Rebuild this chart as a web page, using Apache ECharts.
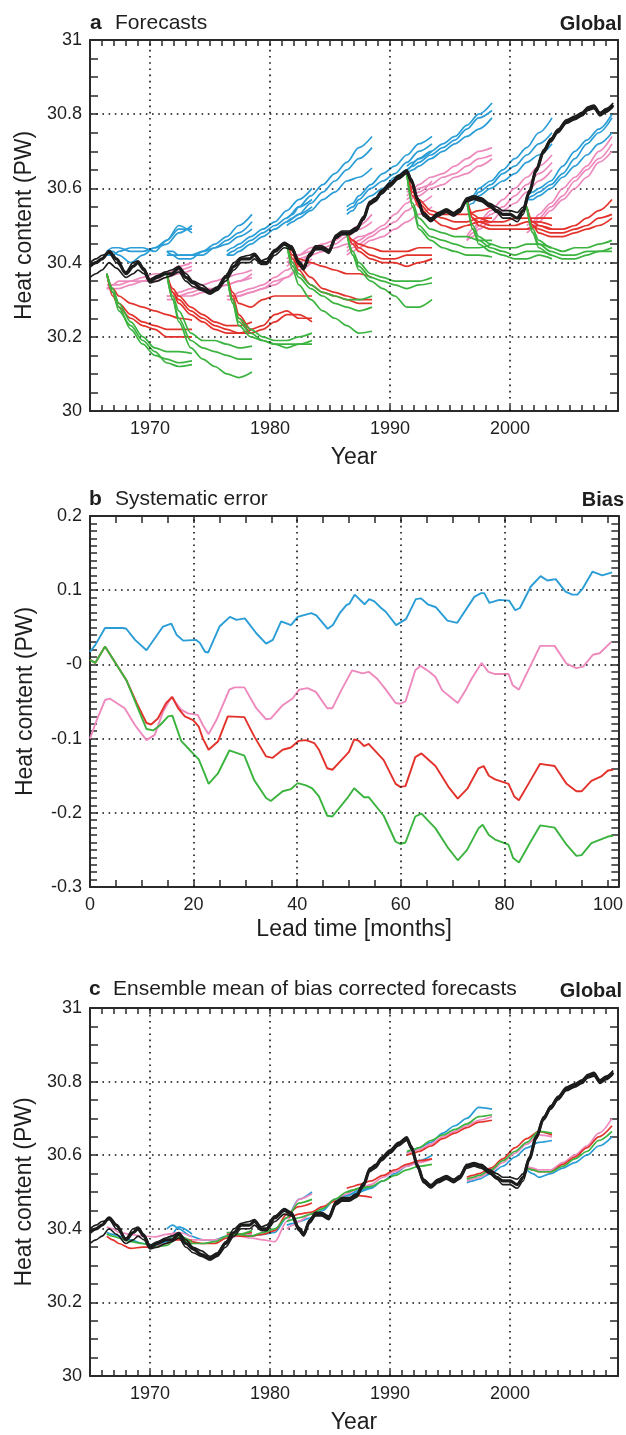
<!DOCTYPE html>
<html>
<head>
<meta charset="utf-8">
<title>Heat content forecasts</title>
<script src="https://cdn.jsdelivr.net/npm/echarts@6.0.0/dist/echarts.min.js"></script>
<style>html,body{margin:0;padding:0;background:#fff;}</style>
</head>
<body>
<div id="main" style="width:626px;height:1435px;"></div>
<script>
// forecast start dates (years) and lead times of the read-off points (years)
const startYears = [1966.4, 1971.4, 1976.4, 1981.4, 1986.4, 1991.4, 1996.4, 2001.4];
const leadYears = [0, 0.5, 1, 2, 3, 4, 5, 6, 7.1];

// panel a: three members per start, one list per start
const blueRuns = [
  [[30.43,30.44,30.44,30.43,30.43,30.44,30.46,30.49,30.49],[30.43,30.43,30.42,30.40,30.42,30.44,30.45,30.48,30.50],[30.42,30.42,30.43,30.44,30.44,30.43,30.46,30.50,30.48]],
  [[30.43,30.43,30.42,30.42,30.43,30.45,30.47,30.50,30.53],[30.43,30.42,30.41,30.41,30.43,30.44,30.46,30.48,30.51],[30.42,30.42,30.42,30.42,30.42,30.44,30.45,30.47,30.49]],
  [[30.43,30.44,30.45,30.47,30.49,30.51,30.54,30.57,30.60],[30.42,30.43,30.44,30.46,30.48,30.50,30.52,30.55,30.57],[30.42,30.42,30.43,30.45,30.47,30.49,30.51,30.53,30.55]],
  [[30.52,30.53,30.55,30.58,30.61,30.64,30.67,30.71,30.74],[30.51,30.52,30.53,30.56,30.59,30.62,30.65,30.68,30.71],[30.50,30.51,30.52,30.54,30.57,30.59,30.62,30.63,30.655]],
  [[30.55,30.56,30.58,30.61,30.64,30.66,30.69,30.72,30.74],[30.54,30.55,30.57,30.60,30.62,30.64,30.67,30.70,30.72],[30.53,30.54,30.56,30.58,30.60,30.63,30.65,30.68,30.70]],
  [[30.66,30.67,30.68,30.70,30.72,30.74,30.77,30.80,30.83],[30.65,30.66,30.67,30.69,30.71,30.73,30.76,30.79,30.81],[30.64,30.65,30.66,30.68,30.70,30.72,30.74,30.76,30.79]],
  [[30.57,30.58,30.60,30.62,30.65,30.68,30.71,30.75,30.79],[30.56,30.57,30.59,30.61,30.64,30.66,30.69,30.72,30.75],[30.55,30.56,30.58,30.60,30.62,30.64,30.67,30.69,30.72]],
  [[30.58,30.59,30.60,30.62,30.66,30.70,30.73,30.76,30.80],[30.57,30.58,30.59,30.61,30.64,30.68,30.72,30.75,30.79],[30.57,30.57,30.58,30.60,30.63,30.66,30.69,30.72,30.75]]
];
const pinkRuns = [
  [[30.33,30.34,30.34,30.35,30.35,30.36,30.37,30.38,30.39],[30.34,30.34,30.35,30.35,30.36,30.37,30.37,30.39,30.40],[30.33,30.33,30.33,30.34,30.35,30.35,30.36,30.37,30.38]],
  [[30.31,30.31,30.31,30.32,30.33,30.33,30.34,30.35,30.37],[30.30,30.30,30.31,30.31,30.32,30.33,30.34,30.35,30.36],[30.31,30.31,30.32,30.33,30.34,30.35,30.36,30.37,30.38]],
  [[30.31,30.31,30.32,30.33,30.34,30.36,30.38,30.40,30.43],[30.30,30.30,30.31,30.32,30.33,30.35,30.36,30.39,30.41],[30.31,30.31,30.31,30.32,30.33,30.34,30.36,30.38,30.40]],
  [[30.41,30.42,30.42,30.44,30.45,30.46,30.48,30.50,30.53],[30.40,30.41,30.42,30.43,30.44,30.45,30.47,30.49,30.51],[30.39,30.40,30.41,30.42,30.43,30.44,30.45,30.47,30.48]],
  [[30.44,30.45,30.46,30.48,30.50,30.53,30.56,30.59,30.62],[30.43,30.44,30.45,30.47,30.49,30.51,30.54,30.56,30.58],[30.42,30.43,30.44,30.46,30.47,30.49,30.51,30.53,30.55]],
  [[30.59,30.60,30.61,30.63,30.64,30.66,30.68,30.70,30.71],[30.58,30.59,30.60,30.61,30.63,30.64,30.66,30.68,30.69],[30.57,30.58,30.58,30.60,30.61,30.63,30.64,30.66,30.68]],
  [[30.47,30.49,30.51,30.54,30.57,30.60,30.63,30.66,30.69],[30.46,30.48,30.50,30.53,30.55,30.58,30.61,30.64,30.67],[30.46,30.47,30.49,30.51,30.54,30.56,30.59,30.62,30.65]],
  [[30.50,30.51,30.53,30.56,30.60,30.63,30.66,30.70,30.74],[30.49,30.50,30.52,30.55,30.58,30.62,30.65,30.68,30.72],[30.48,30.49,30.51,30.54,30.57,30.60,30.63,30.67,30.70]]
];
const redRuns = [
  [[30.37,30.33,30.31,30.29,30.28,30.27,30.26,30.25,30.245],[30.37,30.32,30.29,30.26,30.24,30.23,30.22,30.22,30.22],[30.37,30.31,30.28,30.25,30.23,30.22,30.20,30.20,30.20]],
  [[30.37,30.33,30.31,30.28,30.26,30.24,30.23,30.23,30.24],[30.37,30.32,30.30,30.27,30.25,30.23,30.22,30.21,30.22],[30.37,30.32,30.29,30.26,30.24,30.22,30.21,30.21,30.21]],
  [[30.37,30.32,30.29,30.28,30.30,30.31,30.31,30.31,30.31],[30.37,30.31,30.26,30.22,30.23,30.26,30.27,30.25,30.25],[30.37,30.30,30.25,30.21,30.22,30.24,30.26,30.26,30.24]],
  [[30.45,30.43,30.41,30.40,30.39,30.38,30.37,30.37,30.36],[30.45,30.42,30.39,30.36,30.33,30.32,30.31,30.30,30.30],[30.45,30.41,30.38,30.34,30.32,30.31,30.30,30.29,30.29]],
  [[30.48,30.46,30.45,30.44,30.43,30.43,30.43,30.44,30.44],[30.48,30.46,30.44,30.42,30.41,30.41,30.42,30.42,30.42],[30.48,30.45,30.43,30.41,30.40,30.40,30.39,30.40,30.41]],
  [[30.64,30.60,30.57,30.54,30.53,30.53,30.53,30.54,30.55],[30.64,30.59,30.56,30.53,30.52,30.51,30.51,30.52,30.52],[30.64,30.58,30.55,30.52,30.50,30.49,30.50,30.51,30.51]],
  [[30.57,30.53,30.52,30.51,30.51,30.52,30.52,30.52,30.52],[30.57,30.52,30.51,30.50,30.50,30.50,30.51,30.51,30.50],[30.57,30.52,30.50,30.49,30.49,30.49,30.49,30.50,30.49]],
  [[30.55,30.51,30.50,30.49,30.49,30.50,30.52,30.54,30.57],[30.55,30.50,30.49,30.48,30.48,30.49,30.50,30.52,30.53],[30.55,30.50,30.48,30.47,30.47,30.48,30.49,30.50,30.52]]
];
const greenRuns = [
  [[30.37,30.33,30.29,30.24,30.20,30.17,30.16,30.16,30.155],[30.37,30.32,30.28,30.22,30.18,30.15,30.14,30.13,30.135],[30.37,30.32,30.27,30.23,30.19,30.16,30.13,30.12,30.125]],
  [[30.37,30.31,30.27,30.21,30.19,30.19,30.18,30.17,30.175],[30.37,30.30,30.25,30.19,30.17,30.16,30.15,30.14,30.14],[30.37,30.30,30.24,30.17,30.14,30.12,30.10,30.09,30.105]],
  [[30.37,30.30,30.25,30.22,30.20,30.19,30.19,30.20,30.21],[30.37,30.29,30.24,30.21,30.19,30.18,30.18,30.18,30.19],[30.37,30.29,30.23,30.20,30.19,30.18,30.17,30.18,30.18]],
  [[30.45,30.40,30.37,30.34,30.32,30.31,30.30,30.30,30.31],[30.45,30.39,30.36,30.33,30.31,30.29,30.28,30.27,30.28],[30.45,30.38,30.34,30.30,30.27,30.25,30.23,30.21,30.215]],
  [[30.48,30.43,30.40,30.37,30.36,30.35,30.35,30.35,30.36],[30.48,30.42,30.39,30.36,30.35,30.34,30.33,30.34,30.345],[30.48,30.42,30.38,30.35,30.33,30.31,30.28,30.28,30.30]],
  [[30.64,30.56,30.52,30.49,30.48,30.47,30.47,30.46,30.46],[30.64,30.55,30.50,30.47,30.46,30.45,30.44,30.44,30.45],[30.64,30.55,30.49,30.46,30.44,30.43,30.42,30.42,30.415]],
  [[30.57,30.50,30.47,30.45,30.44,30.44,30.45,30.45,30.44],[30.57,30.49,30.46,30.44,30.43,30.42,30.43,30.43,30.42],[30.57,30.49,30.45,30.43,30.42,30.41,30.41,30.42,30.41]],
  [[30.55,30.49,30.46,30.44,30.43,30.44,30.44,30.45,30.46],[30.55,30.48,30.45,30.43,30.42,30.42,30.43,30.43,30.44],[30.55,30.48,30.44,30.42,30.41,30.41,30.42,30.43,30.43]]
];

// observed / analysed heat content (three members)
const blackYears = [1965.0,1965.5,1966.0,1966.6,1967.2,1968.0,1968.6,1969.0,1969.5,1970.0,1970.6,1971.3,1971.8,1972.4,1973.0,1973.6,1974.3,1975.0,1975.6,1976.3,1977.0,1977.6,1978.3,1978.7,1979.3,1979.7,1980.4,1981.2,1981.8,1982.4,1982.8,1983.3,1983.8,1984.3,1984.9,1985.5,1986.0,1986.6,1987.2,1987.8,1988.3,1988.8,1989.3,1990.0,1990.7,1991.4,1991.8,1992.3,1992.8,1993.4,1994.0,1994.7,1995.3,1995.8,1996.4,1997.0,1997.6,1998.3,1998.9,1999.4,2000.0,2000.6,2001.1,2001.6,2002.2,2002.8,2003.4,2004.0,2004.7,2005.4,2006.0,2006.5,2007.0,2007.5,2008.0,2008.6];
const blackMain = [30.39,30.40,30.41,30.43,30.41,30.37,30.39,30.40,30.38,30.35,30.36,30.37,30.37,30.385,30.36,30.345,30.33,30.32,30.33,30.36,30.39,30.41,30.41,30.42,30.40,30.40,30.43,30.45,30.44,30.40,30.385,30.42,30.44,30.44,30.43,30.47,30.48,30.48,30.49,30.52,30.56,30.57,30.59,30.61,30.63,30.645,30.62,30.57,30.53,30.515,30.53,30.54,30.53,30.54,30.57,30.575,30.57,30.555,30.54,30.53,30.53,30.52,30.54,30.59,30.65,30.70,30.73,30.755,30.78,30.79,30.80,30.815,30.82,30.80,30.81,30.825];
const blackHigh = [30.40,30.41,30.42,30.425,30.40,30.375,30.40,30.405,30.385,30.355,30.365,30.375,30.38,30.39,30.37,30.35,30.34,30.325,30.335,30.365,30.40,30.415,30.42,30.425,30.405,30.41,30.435,30.455,30.445,30.405,30.39,30.425,30.445,30.445,30.435,30.475,30.485,30.485,30.495,30.525,30.565,30.575,30.595,30.615,30.635,30.65,30.625,30.575,30.535,30.52,30.535,30.545,30.535,30.545,30.575,30.58,30.575,30.56,30.55,30.54,30.54,30.535,30.55,30.595,30.655,30.705,30.735,30.76,30.785,30.795,30.805,30.82,30.825,30.805,30.815,30.83];
const blackLow = [30.36,30.37,30.38,30.40,30.385,30.36,30.37,30.38,30.37,30.345,30.35,30.36,30.365,30.375,30.35,30.335,30.325,30.315,30.325,30.35,30.38,30.40,30.40,30.41,30.395,30.395,30.42,30.44,30.435,30.395,30.38,30.415,30.435,30.435,30.425,30.465,30.475,30.475,30.485,30.515,30.555,30.565,30.585,30.605,30.625,30.64,30.615,30.565,30.525,30.51,30.525,30.535,30.525,30.535,30.565,30.57,30.565,30.55,30.535,30.52,30.52,30.51,30.53,30.585,30.645,30.695,30.725,30.75,30.775,30.785,30.795,30.81,30.815,30.795,30.805,30.82];

// panel b: systematic error vs lead time [month, PW]
const biasBlue = [[0,0.017],[1,0.026],[2.9,0.049],[6.4,0.049],[7,0.048],[8.7,0.033],[10.9,0.019],[14.1,0.051],[15.7,0.055],[16.7,0.040],[18,0.032],[20.5,0.033],[21.2,0.029],[22.2,0.017],[22.8,0.016],[25,0.051],[27,0.064],[28.3,0.060],[29.9,0.062],[32.1,0.042],[34,0.028],[35.3,0.033],[36.9,0.058],[38.8,0.053],[40.1,0.064],[42.7,0.069],[43.7,0.066],[45.9,0.048],[46.9,0.053],[48.2,0.069],[49.5,0.080],[50.1,0.082],[51.1,0.094],[53,0.081],[53.9,0.088],[54.9,0.085],[56.2,0.076],[57.1,0.071],[59.1,0.053],[61,0.061],[62.9,0.088],[63.9,0.089],[65.2,0.081],[66.8,0.077],[69,0.059],[70.9,0.056],[74.2,0.091],[75.5,0.096],[76.1,0.096],[77.1,0.083],[79,0.087],[80.9,0.086],[82.1,0.073],[83,0.076],[85.1,0.105],[87,0.119],[88.3,0.113],[89.9,0.115],[91.8,0.098],[93.1,0.094],[94.1,0.094],[95,0.101],[97,0.125],[98.9,0.120],[100.8,0.124]];
const biasPink = [[0,-0.100],[1.3,-0.075],[2.9,-0.048],[3.8,-0.046],[6.7,-0.059],[8.7,-0.082],[10.9,-0.102],[12.5,-0.095],[14.1,-0.064],[15.7,-0.044],[17.6,-0.061],[18.9,-0.066],[20.8,-0.068],[21.8,-0.082],[22.9,-0.094],[24.4,-0.075],[26.9,-0.034],[27.9,-0.031],[29.8,-0.031],[32.1,-0.059],[34,-0.074],[34.9,-0.073],[37.2,-0.055],[39.1,-0.046],[40.4,-0.034],[42,-0.032],[43.6,-0.037],[45.8,-0.059],[46.8,-0.059],[48.5,-0.035],[50.6,-0.008],[52.6,-0.012],[53.8,-0.010],[55.4,-0.019],[57,-0.033],[59,-0.052],[59.9,-0.053],[60.9,-0.050],[62.8,-0.008],[63.8,-0.002],[65.5,-0.010],[66.7,-0.017],[68,-0.035],[71,-0.052],[72.5,-0.035],[73.7,-0.019],[75.6,0.002],[76.9,-0.010],[78.2,-0.013],[80.8,-0.013],[81.6,-0.028],[82.8,-0.034],[84.6,-0.008],[86.9,0.025],[89.7,0.025],[92,0.001],[93.9,-0.005],[95.2,-0.003],[97.1,0.013],[98.4,0.015],[100.6,0.030]];
const biasRed = [[0,0.006],[1,0.002],[2.9,0.024],[7,-0.021],[9,-0.052],[10.9,-0.079],[11.8,-0.081],[13.1,-0.073],[14.7,-0.052],[15.9,-0.044],[17,-0.059],[18.3,-0.070],[19.9,-0.075],[21,-0.084],[21.8,-0.100],[22.9,-0.115],[24.7,-0.104],[26.6,-0.070],[29.8,-0.071],[31.7,-0.097],[34,-0.124],[35.2,-0.126],[37.2,-0.115],[38.8,-0.112],[40.3,-0.103],[41.7,-0.102],[43.3,-0.106],[44.2,-0.115],[45.8,-0.140],[46.8,-0.142],[48.4,-0.130],[50,-0.118],[51,-0.101],[51.9,-0.103],[52.9,-0.110],[53.8,-0.107],[56.7,-0.129],[59,-0.161],[59.9,-0.165],[60.9,-0.164],[62.8,-0.125],[64,-0.120],[66.7,-0.137],[69.2,-0.165],[71,-0.181],[72.9,-0.167],[75,-0.140],[76,-0.137],[77,-0.150],[78.2,-0.155],[80.8,-0.161],[81.9,-0.178],[82.8,-0.183],[84.9,-0.158],[86.9,-0.134],[89.7,-0.137],[92,-0.161],[93.9,-0.171],[94.9,-0.171],[96.8,-0.157],[98.7,-0.151],[100,-0.143],[101,-0.142]];
const biasGreen = [[0,0.006],[1,0.002],[2.9,0.024],[7,-0.021],[9,-0.055],[10.9,-0.087],[12.2,-0.089],[13.5,-0.082],[15.1,-0.070],[15.9,-0.069],[17.6,-0.103],[19.2,-0.115],[21,-0.128],[22.1,-0.147],[22.9,-0.161],[24.7,-0.147],[26.9,-0.116],[29.8,-0.123],[31.7,-0.156],[34,-0.180],[34.9,-0.184],[37.2,-0.171],[38.8,-0.168],[40.1,-0.160],[41.7,-0.163],[42.9,-0.167],[44.2,-0.178],[45.8,-0.204],[46.8,-0.205],[49.7,-0.180],[51,-0.167],[52.9,-0.179],[53.8,-0.179],[56.7,-0.204],[59,-0.239],[59.9,-0.242],[60.9,-0.240],[62.8,-0.205],[64,-0.201],[66.7,-0.221],[69.2,-0.248],[71,-0.264],[72.8,-0.250],[75,-0.221],[75.8,-0.216],[77,-0.230],[78.2,-0.236],[80.8,-0.243],[81.7,-0.261],[82.8,-0.267],[84.9,-0.241],[86.9,-0.217],[89.7,-0.220],[92,-0.243],[93.9,-0.258],[94.9,-0.257],[96.8,-0.241],[100,-0.232],[101,-0.231]];

// panel c: ensemble means after bias correction, one list per start
const meanBlue = [
  [30.39,30.385,30.38,30.37,30.36,30.355,30.365,30.405,30.386],
  [30.40,30.41,30.40,30.38,30.37,30.37,30.38,30.385,30.39],
  [30.385,30.385,30.38,30.38,30.385,30.39,30.43,30.48,30.50],
  [30.41,30.415,30.42,30.43,30.45,30.48,30.49,30.505,30.515],
  [30.49,30.495,30.50,30.51,30.53,30.55,30.57,30.585,30.60],
  [30.605,30.615,30.62,30.635,30.66,30.68,30.70,30.73,30.725],
  [30.525,30.53,30.535,30.55,30.57,30.595,30.62,30.635,30.64],
  [30.56,30.55,30.54,30.55,30.565,30.58,30.60,30.625,30.65]
];
const meanPink = [
  [30.405,30.40,30.39,30.385,30.38,30.378,30.385,30.39,30.378],
  [30.385,30.385,30.38,30.37,30.37,30.37,30.375,30.38,30.385],
  [30.39,30.385,30.38,30.375,30.37,30.365,30.42,30.48,30.495],
  [30.40,30.41,30.42,30.44,30.46,30.48,30.495,30.51,30.52],
  [30.50,30.505,30.51,30.52,30.54,30.555,30.57,30.58,30.59],
  [30.605,30.61,30.615,30.63,30.65,30.665,30.68,30.695,30.705],
  [30.53,30.535,30.54,30.555,30.58,30.605,30.63,30.655,30.65],
  [30.57,30.565,30.56,30.56,30.58,30.60,30.625,30.66,30.70]
];
const meanRed = [
  [30.38,30.37,30.36,30.347,30.35,30.35,30.36,30.375,30.368],
  [30.37,30.37,30.37,30.365,30.36,30.36,30.375,30.385,30.39],
  [30.385,30.385,30.38,30.38,30.385,30.395,30.44,30.46,30.47],
  [30.43,30.435,30.44,30.445,30.46,30.475,30.48,30.49,30.485],
  [30.51,30.515,30.52,30.53,30.545,30.56,30.575,30.585,30.59],
  [30.60,30.605,30.61,30.625,30.645,30.66,30.675,30.69,30.695],
  [30.54,30.545,30.55,30.565,30.59,30.62,30.645,30.665,30.655],
  [30.565,30.56,30.555,30.555,30.575,30.595,30.62,30.65,30.68]
];
const meanGreen = [
  [30.386,30.38,30.375,30.365,30.36,30.35,30.355,30.38,30.364],
  [30.375,30.38,30.375,30.36,30.36,30.365,30.38,30.385,30.395],
  [30.39,30.39,30.385,30.38,30.39,30.40,30.43,30.47,30.48],
  [30.42,30.425,30.43,30.44,30.455,30.48,30.50,30.51,30.515],
  [30.50,30.505,30.51,30.515,30.53,30.545,30.56,30.57,30.575],
  [30.61,30.615,30.62,30.64,30.655,30.67,30.685,30.705,30.71],
  [30.535,30.54,30.545,30.56,30.585,30.61,30.635,30.665,30.66],
  [30.565,30.56,30.555,30.555,30.57,30.59,30.61,30.64,30.665]
];

const yearGrid = [1970, 1980, 1990, 2000];
const leadGrid = [20, 40, 60, 80];

const FONT = '"Liberation Sans", Arial, Helvetica, sans-serif';
const INK = '#1e1e1e';
const AXIS = '#2a2a2a';
const BLUE = '#2a9dd6', PINK = '#ee89bd', RED = '#e3322b', GREEN = '#3bb33f', BLACK = '#1c1c1c';
const dotted = { type: [1.6, 4.6], color: '#111', width: 1.6 };

function line(data, color, width, xi, yi, z) {
  return {
    type: 'line', xAxisIndex: xi, yAxisIndex: yi, data: data,
    showSymbol: false, symbol: 'none', smooth: 0.3, smoothMonotone: 'x',
    lineStyle: { color: color, width: width }, itemStyle: { color: color },
    silent: true, animation: false, z: z || 3
  };
}

function runsToSeries(runs, color, xi, yi) {
  const out = [];
  runs.forEach((members, s) => {
    members.forEach(vals => {
      const pts = leadYears.map((l, i) => [+(startYears[s] + l).toFixed(2), vals[i]]);
      out.push(line(pts, color, 1.7, xi, yi));
    });
  });
  return out;
}

function meansToSeries(means, color, xi, yi) {
  return means.map((vals, s) => line(leadYears.map((l, i) => [+(startYears[s] + l).toFixed(2), vals[i]]), color, 1.7, xi, yi));
}

function blackSeries(xi, yi) {
  const pair = arr => blackYears.map((y, i) => [y, arr[i]]);
  return [
    line(pair(blackHigh), BLACK, 1.6, xi, yi, 5),
    line(pair(blackLow), BLACK, 1.6, xi, yi, 5),
    line(pair(blackMain), BLACK, 3.2, xi, yi, 6)
  ];
}

function gridLines(values, xi, yi, y0) {
  return {
    type: 'line', xAxisIndex: xi, yAxisIndex: yi, data: [[values[0], y0]],
    showSymbol: false, symbol: 'none', lineStyle: { opacity: 0 }, silent: true, animation: false, z: 1,
    markLine: {
      silent: true, symbol: 'none', animation: false, label: { show: false },
      lineStyle: dotted,
      data: values.map(v => ({ xAxis: v }))
    }
  };
}

const axisLine = { show: true, onZero: false, lineStyle: { color: AXIS, width: 2 } };
const tick = len => ({ show: true, inside: true, length: len, lineStyle: { color: AXIS, width: 1.5 } });
const labelStyle = { color: INK, fontFamily: FONT, fontSize: 18 };
const nameStyle = { color: INK, fontFamily: FONT, fontSize: 23 };

function yearAxes(g) {
  return [
    { type: 'value', gridIndex: g, position: 'bottom', min: 1965, max: 2009, interval: 1,
      axisLine: axisLine, axisTick: tick(6), splitLine: { show: false },
      axisLabel: Object.assign({ margin: 9, formatter: v => (v % 10 === 0 ? String(v) : '') }, labelStyle),
      name: 'Year', nameLocation: 'middle', nameGap: 35, nameTextStyle: nameStyle },
    { type: 'value', gridIndex: g, position: 'top', min: 1965, max: 2009, interval: 1,
      axisLine: axisLine, axisTick: tick(6), axisLabel: { show: false }, splitLine: { show: false } }
  ];
}

function heatAxes(g) {
  return [
    { type: 'value', gridIndex: g, position: 'left', min: 30, max: 31, interval: 0.2,
      axisLine: axisLine, axisTick: tick(8),
      minorTick: { show: true, splitNumber: 4, length: 8, lineStyle: { color: AXIS, width: 1.5 } },
      splitLine: { show: true, lineStyle: dotted },
      axisLabel: Object.assign({ margin: 8, formatter: v => String(+v.toFixed(1)) }, labelStyle),
      name: 'Heat content (PW)', nameLocation: 'middle', nameGap: 53, nameTextStyle: nameStyle },
    { type: 'value', gridIndex: g, position: 'right', min: 30, max: 31, interval: 0.2,
      axisLine: axisLine, axisTick: tick(8),
      minorTick: { show: true, splitNumber: 4, length: 8, lineStyle: { color: AXIS, width: 1.5 } },
      splitLine: { show: false }, axisLabel: { show: false } }
  ];
}

const xAxes = [].concat(
  yearAxes(0),
  [
    { type: 'value', gridIndex: 1, position: 'bottom', min: 0, max: 102, interval: 5,
      axisLine: axisLine, axisTick: tick(7), splitLine: { show: false },
      axisLabel: Object.assign({ margin: 9, formatter: v => (v % 20 === 0 ? String(v) : '') }, labelStyle),
      name: 'Lead time [months]', nameLocation: 'middle', nameGap: 31, nameTextStyle: nameStyle },
    { type: 'value', gridIndex: 1, position: 'top', min: 0, max: 102, interval: 5,
      axisLine: axisLine, axisTick: tick(7), axisLabel: { show: false }, splitLine: { show: false } }
  ],
  yearAxes(2)
);

const yAxes = [].concat(
  heatAxes(0),
  [
    { type: 'value', gridIndex: 1, position: 'left', min: -0.3, max: 0.2, interval: 0.1,
      axisLine: axisLine, axisTick: tick(8),
      minorTick: { show: true, splitNumber: 10, length: 7, lineStyle: { color: AXIS, width: 1.5 } },
      splitLine: { show: true, lineStyle: dotted },
      axisLabel: Object.assign({ margin: 8, formatter: v => (Math.abs(v) < 1e-9 ? '-0' : String(+v.toFixed(1))) }, labelStyle),
      name: 'Heat content (PW)', nameLocation: 'middle', nameGap: 53, nameTextStyle: nameStyle },
    { type: 'value', gridIndex: 1, position: 'right', min: -0.3, max: 0.2, interval: 0.1,
      axisLine: axisLine, axisTick: tick(8),
      minorTick: { show: true, splitNumber: 10, length: 7, lineStyle: { color: AXIS, width: 1.5 } },
      splitLine: { show: false }, axisLabel: { show: false } }
  ],
  heatAxes(2)
);

const series = [].concat(
  [gridLines(yearGrid, 0, 0, 30)],
  runsToSeries(blueRuns, BLUE, 0, 0),
  runsToSeries(pinkRuns, PINK, 0, 0),
  runsToSeries(redRuns, RED, 0, 0),
  runsToSeries(greenRuns, GREEN, 0, 0),
  blackSeries(0, 0),

  [gridLines(leadGrid, 2, 2, -0.3)],
  [line(biasBlue, BLUE, 1.9, 2, 2), line(biasPink, PINK, 1.9, 2, 2), line(biasRed, RED, 1.9, 2, 2), line(biasGreen, GREEN, 1.9, 2, 2)],

  [gridLines(yearGrid, 4, 4, 30)],
  meansToSeries(meanBlue, BLUE, 4, 4),
  meansToSeries(meanPink, PINK, 4, 4),
  meansToSeries(meanRed, RED, 4, 4),
  meansToSeries(meanGreen, GREEN, 4, 4),
  blackSeries(4, 4)
);
// bias lines are plain polylines in the original
series.forEach(s => { if (s.xAxisIndex === 2) s.smooth = false; });

function txt(x, y, text, size, bold, align) {
  return {
    type: 'text', x: x, y: y, silent: true,
    style: {
      text: text, fill: INK, font: (bold ? 'bold ' : '') + size + 'px ' + FONT,
      textAlign: align || 'left', textVerticalAlign: 'middle', align: align || 'left', verticalAlign: 'middle'
    }
  };
}

const option = {
  backgroundColor: '#fff',
  animation: false,
  grid: [
    { left: 90, top: 40, width: 528, height: 371 },
    { left: 90, top: 516, width: 529, height: 371 },
    { left: 90, top: 1008, width: 528, height: 370 }
  ],
  xAxis: xAxes,
  yAxis: yAxes,
  series: series,
  graphic: [
    txt(90, 23, 'a', 21, true),
    txt(115, 23, 'Forecasts', 21, false),
    txt(622, 24, 'Global', 20, true, 'right'),
    txt(89, 499, 'b', 21, true),
    txt(115, 499, 'Systematic error', 21, false),
    txt(624, 500, 'Bias', 20, true, 'right'),
    txt(89, 989, 'c', 21, true),
    txt(113, 989, 'Ensemble mean of bias corrected forecasts', 21, false),
    txt(622, 991, 'Global', 20, true, 'right')
  ]
};

const chart = echarts.init(document.getElementById('main'), null, { renderer: 'canvas' });
chart.setOption(option);
</script>
</body>
</html>
